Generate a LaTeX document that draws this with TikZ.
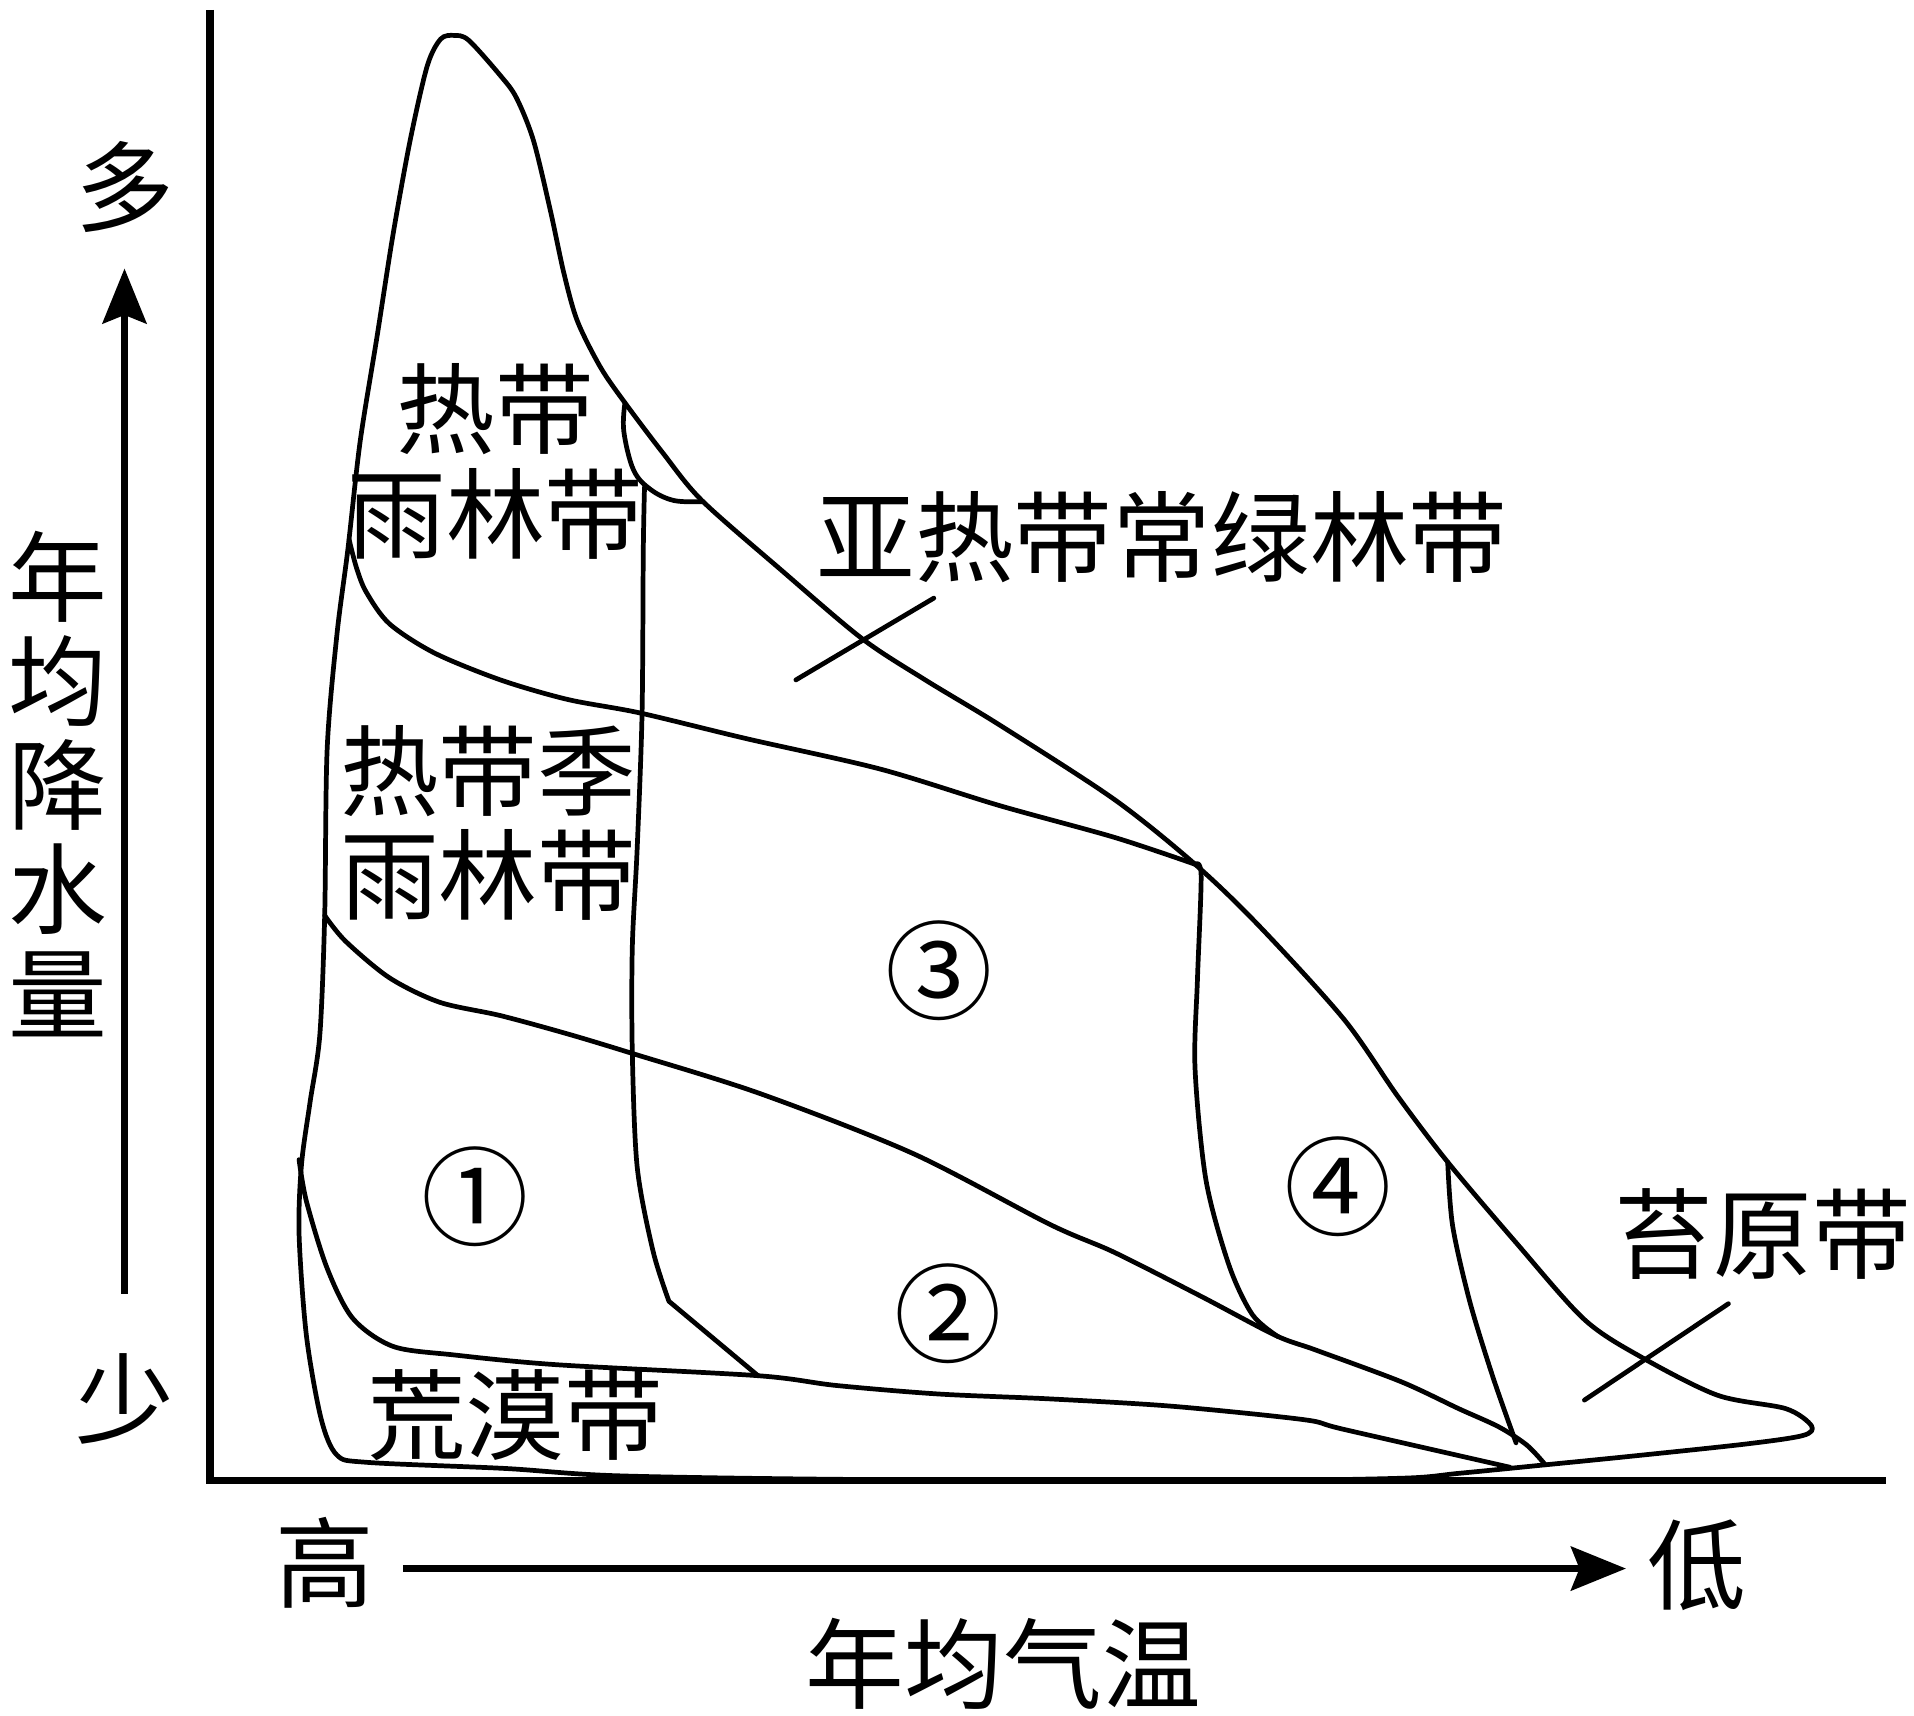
\documentclass[tikz,border=0pt]{standalone}
\usepackage{fontspec}
\usepackage{tikz}
\usetikzlibrary{arrows.meta}
\newfontfamily\cjk{Noto Sans CJK SC}
\tikzset{
  zone/.style={line width=1.1pt, line join=round, line cap=round},
  axisline/.style={line width=1.7pt},
  dirarrow/.style={line width=1.5pt, -{Stealth[length=0.45cm, width=0.36cm, inset=0.07cm]}},
  lbl/.style={font=\cjk\fontsize{23}{24.3}\selectfont, inner sep=0pt, align=center},
  numlbl/.style={font=\cjk\fontsize{25}{25}\selectfont, inner sep=0pt},
}

\begin{document}
\begin{tikzpicture}[x=0.01cm, y=-0.01cm]
    \useasboundingbox (0,0) rectangle (1568,1405);
    \coordinate (origin) at (172,1213);
    \coordinate (ytop) at (172,8);
    \coordinate (xend) at (1545,1213);
    \draw[axisline] (ytop) -- (origin) -- (xend);
    \coordinate (rainlow) at (102,1060);
    \coordinate (rainhigh) at (102,220);
    \coordinate (temphigh) at (330,1285);
    \coordinate (templow) at (1332,1285);
    \draw[dirarrow] (rainlow) -- (rainhigh);
    \draw[dirarrow] (temphigh) -- (templow);
    \draw[zone] plot[smooth cycle, tension=0.5] coordinates {(276,1192) (263,1162) (251,1094) (245,1011) (247,954) (254,903) (262,848) (266,750) (268,614) (276,520) (285,450) (295,362) (309,275) (322,192) (336,115) (350,54) (361,32) (372,29) (384,33) (410,62) (423,80) (437,115) (451,173) (462,224) (473,263) (492,301) (512,330) (543,371) (575,410) (640,467) (706,523) (758,557) (819,594) (913,655) (979,708) (1031,758) (1101,835) (1145,898) (1186,952) (1242,1018) (1298,1081) (1345,1112) (1407,1143) (1463,1154) (1484,1168) (1477,1176) (1430,1183) (1336,1193) (1266,1200) (1195,1207) (1148,1211) (1000,1213) (700,1212) (506,1209) (414,1203) (301,1198)};
    \draw[zone] plot[smooth, tension=0.6] coordinates {(512,330) (511,353) (519,385) (533,401) (552,410) (575,411)};
    \draw[zone] plot[smooth, tension=0.5] coordinates {(528,399) (527,451) (526,584) (522,695) (518,776) (518,862) (522,956) (535,1025) (548,1066)} -- (621,1127);
    \draw[zone] plot[smooth, tension=0.5] coordinates {(286,442) (292,465) (300,485) (319,511) (356,535) (410,557) (465,573) (524,584) (611,605) (721,630) (819,660) (913,686) (979,708)};
    \draw[zone] plot[smooth, tension=0.5] coordinates {(266,750) (283,771) (319,801) (360,821) (410,832) (465,847) (518,863) (623,896) (748,945) (860,1003) (913,1026) (984,1062) (1045,1094) (1078,1106) (1148,1132) (1195,1154) (1228,1169) (1251,1184) (1266,1200)};
    \draw[zone] plot[smooth, tension=0.5] coordinates {(979,708) (984,717) (981,802) (979,875) (988,967) (1007,1037) (1026,1077) (1047,1095)};
    \draw[zone] plot[smooth, tension=0.5] coordinates {(1186,952) (1190,1004) (1204,1066) (1223,1128) (1242,1182)};
    \draw[zone] plot[smooth, tension=0.5] coordinates {(245,950) (251,984) (268,1039) (289,1080) (322,1103) (372,1110) (456,1118) (621,1127) (685,1135) (769,1142) (860,1146) (960,1152) (1068,1163) (1101,1171) (1237,1202)};
    \draw[zone] (652,557) -- (765,490);
    \draw[zone] (1298,1147) -- (1416,1068);
    \node[lbl] (rainforest) at (406,378) {热带\\雨林带};
    \node[lbl] (seasonal) at (400,674) {热带季\\雨林带};
    \node[lbl] (subtropic) at (952,440) {亚热带常绿林带};
    \node[lbl] (tundra) at (1444,1011) {苔原带};
    \node[lbl] (desert) at (422,1159) {荒漠带};
    \node[numlbl] (zone1) at (389,980) {①};
    \node[numlbl] (zone2) at (777,1076) {②};
    \node[numlbl] (zone3) at (769,795) {③};
    \node[numlbl] (zone4) at (1096,972) {④};
    \node[lbl] (much) at (102,153) {多};
    \node[lbl] (little) at (102,1146) {少};
    \node[lbl] (rainlabel) at (47,642) {年\\均\\降\\水\\量};
    \node[lbl] (hot) at (266,1280) {高};
    \node[lbl] (cold) at (1390,1282) {低};
    \node[lbl] (templabel) at (822,1363) {年均气温};
\end{tikzpicture}
\end{document}
